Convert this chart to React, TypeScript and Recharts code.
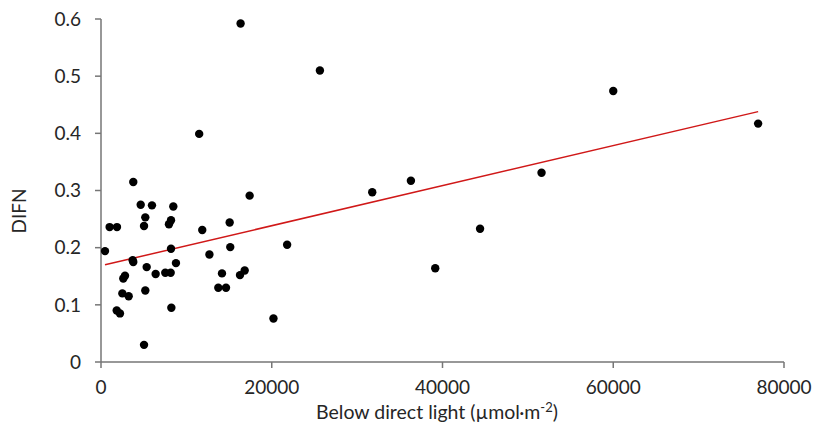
import React from "react";
import { ScatterChart, Scatter, XAxis, YAxis, ReferenceLine } from "recharts";

const lightValues = [
  470, 1010, 1870, 1840, 2220, 2500, 2610, 2810, 3240, 3710,
  3780, 3780, 4650, 5040, 5190, 5350, 5190, 5040, 5970, 6400,
  7530, 7960, 8200, 8160, 8200, 8240, 8470, 8780, 11500, 11860,
  12700, 13740, 14170, 14640, 15070, 15140, 16280, 16830, 16350, 17410,
  20200, 21800, 25640, 31770, 36300, 39150, 44400, 51600, 60000, 76970,
];
const difnValues = [
  0.194, 0.236, 0.236, 0.09, 0.085, 0.12, 0.146, 0.151, 0.115, 0.178,
  0.175, 0.315, 0.275, 0.238, 0.253, 0.166, 0.125, 0.03, 0.274, 0.154,
  0.156, 0.241, 0.248, 0.156, 0.198, 0.095, 0.272, 0.173, 0.399, 0.231,
  0.188, 0.13, 0.155, 0.13, 0.244, 0.201, 0.152, 0.16, 0.592, 0.291,
  0.076, 0.205, 0.51, 0.297, 0.317, 0.164, 0.233, 0.331, 0.474, 0.417,
];
const trendStart = { x: 470, y: 0.17 };
const trendEnd = { x: 76970, y: 0.438 };
const xTicks = [0, 20000, 40000, 60000, 80000];
const yTicks = [0, 0.1, 0.2, 0.3, 0.4, 0.5, 0.6];

const data = lightValues.map((x, i) => ({ x, y: difnValues[i] }));

const FONT = "Lato, 'Open Sans', sans-serif";
const TEXT = "#262626";
const AXIS = "#767676";

const Dot = (props: any) => {
  const { cx, cy } = props;
  return <circle cx={cx} cy={cy} r={4.2} fill="#000" />;
};

const XTitle = () => (
  <text x={437} y={419} textAnchor="middle" fontFamily={FONT} fontSize={19.5} fill={TEXT}>
    Below direct light (µmol·m
    <tspan dy={-7} fontSize={13}>-2</tspan>
    <tspan dy={7}>)</tspan>
  </text>
);

const YTitle = () => (
  <text
    x={18}
    y={211}
    transform="rotate(-90, 18, 211)"
    textAnchor="middle"
    dominantBaseline="central"
    fontFamily={FONT}
    fontSize={19}
    fill={TEXT}
  >
    DIFN
  </text>
);

export default function App() {
  return (
    <div style={{ position: "absolute", left: 0, top: 0, width: 816, height: 429, background: "#fff" }}>
      <ScatterChart width={816} height={429} margin={{ top: 19, right: 32, bottom: 0, left: 0 }}>
        <XAxis
          type="number"
          dataKey="x"
          domain={[0, 80000]}
          ticks={xTicks}
          height={67}
          tickSize={6}
          tickMargin={13}
          axisLine={{ stroke: AXIS, strokeWidth: 1.5 }}
          tickLine={{ stroke: AXIS, strokeWidth: 1.5 }}
          tick={{ fill: TEXT, fontSize: 19, fontFamily: FONT }}
          interval={0}
          label={<XTitle />}
        />
        <YAxis
          type="number"
          dataKey="y"
          domain={[0, 0.6]}
          ticks={yTicks}
          width={101}
          tickSize={6}
          tickMargin={14}
          axisLine={{ stroke: AXIS, strokeWidth: 1.5 }}
          tickLine={{ stroke: AXIS, strokeWidth: 1.5 }}
          tick={{ fill: TEXT, fontSize: 19, fontFamily: FONT }}
          interval={0}
          tickFormatter={(v: number) => String(Math.round(v * 10) / 10)}
          label={<YTitle />}
        />
        <ReferenceLine
          segment={[trendStart, trendEnd]}
          stroke="#D01818"
          strokeWidth={1.5}
          ifOverflow="visible"
        />
        <Scatter data={data} fill="#000" shape={<Dot />} isAnimationActive={false} />
      </ScatterChart>
    </div>
  );
}
